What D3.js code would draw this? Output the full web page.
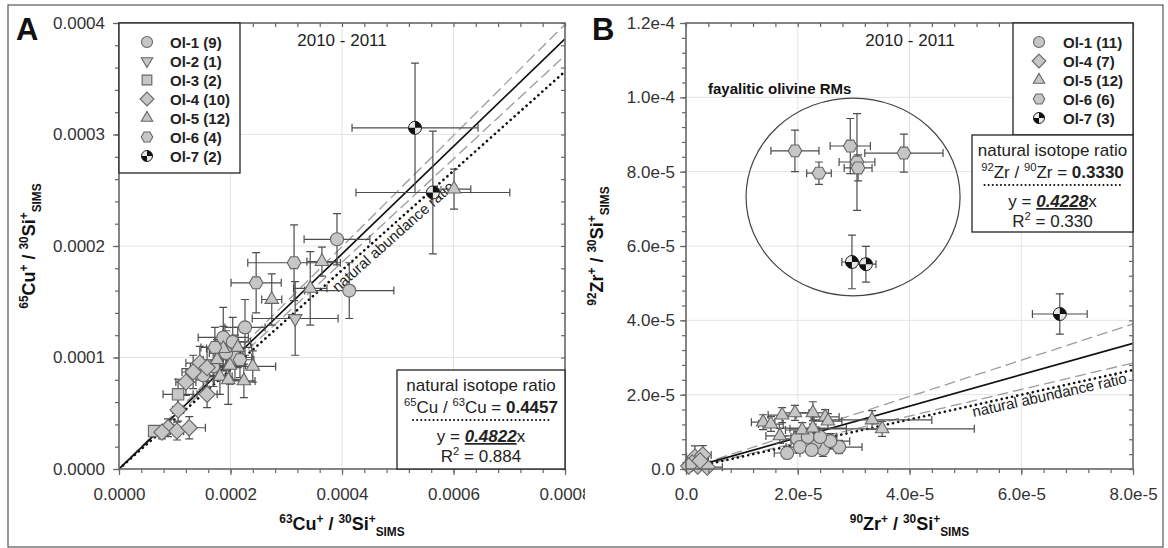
<!DOCTYPE html>
<html>
<head>
<meta charset="utf-8">
<script src="https://cdn.jsdelivr.net/npm/d3@7"></script>
<style>
  body { margin: 0; background: #fff; }
  svg { font-family: Arial, "Liberation Sans", sans-serif; }
</style>
</head>
<body>
<svg id="chart" width="1168" height="548"></svg>
<script>
// ---- panel A : 63Cu+/30Si+ (x) vs 65Cu+/30Si+ (y), rows are [x, y, xErr, yErr]
const cuOl1 = [
  [3.91e-4, 2.06e-4, 5.9e-5, 2.3e-5], [4.13e-4, 1.60e-4, 8.0e-5, 2.5e-5],
  [2.26e-4, 1.27e-4, 3.6e-5, 2.5e-5], [1.87e-4, 1.18e-4, 4.5e-5, 2.7e-5],
  [2.04e-4, 1.14e-4, 3.2e-5, 2.2e-5], [1.51e-4, 8.4e-5, 2.7e-5, 1.3e-5],
  [2.08e-4, 1.00e-4, 3.0e-5, 2.0e-5], [1.69e-4, 9.2e-5, 2.5e-5, 1.8e-5],
  [1.92e-4, 1.04e-4, 3.0e-5, 2.0e-5]
];
const cuOl2 = [[3.16e-4, 1.35e-4, 7.7e-5, 3.3e-5]];
const cuOl3 = [[1.06e-4, 6.7e-5, 2.7e-5, 1.35e-5], [6.3e-5, 3.4e-5, 9e-6, 4e-6]];
const cuOl4 = [
  [1.45e-4, 9.5e-5, 2.5e-5, 1.5e-5], [1.58e-4, 9.1e-5, 3.0e-5, 1.8e-5],
  [1.58e-4, 6.7e-5, 1.8e-5, 1.2e-5], [1.06e-4, 5.3e-5, 1.0e-5, 1.0e-5],
  [8.8e-5, 3.7e-5, 1.0e-5, 8e-6],    [1.04e-4, 3.4e-5, 1.2e-5, 8e-6],
  [1.26e-4, 3.7e-5, 2.9e-5, 1.0e-5], [1.33e-4, 8.7e-5, 2.0e-5, 1.5e-5],
  [1.20e-4, 7.8e-5, 1.8e-5, 1.2e-5], [7.7e-5, 3.3e-5, 8e-6, 6e-6]
];
const cuOl5 = [
  [6.01e-4, 2.51e-4, 3.0e-5, 1.8e-5], [3.64e-4, 1.86e-4, 2.7e-5, 1.3e-5],
  [2.74e-4, 1.52e-4, 1.8e-5, 2.3e-5], [3.43e-4, 1.62e-4, 3.0e-5, 3.3e-5],
  [1.87e-4, 1.08e-4, 3.0e-5, 2.0e-5], [2.13e-4, 1.09e-4, 2.5e-5, 1.8e-5],
  [1.76e-4, 9.8e-5, 2.5e-5, 1.8e-5],  [1.81e-4, 8.3e-5, 2.2e-5, 1.6e-5],
  [1.96e-4, 8.0e-5, 2.5e-5, 2.2e-5],  [2.24e-4, 7.9e-5, 2.0e-5, 1.5e-5],
  [2.40e-4, 9.2e-5, 4.1e-5, 1.4e-5],  [1.99e-4, 9.3e-5, 2.8e-5, 1.7e-5]
];
const cuOl6 = [
  [3.14e-4, 1.85e-4, 8.3e-5, 3.4e-5], [2.46e-4, 1.67e-4, 4.5e-5, 2.7e-5],
  [1.72e-4, 1.09e-4, 2.5e-5, 1.8e-5], [2.17e-4, 9.8e-5, 2.5e-5, 1.6e-5]
];
const cuOl7 = [[5.31e-4, 3.06e-4, 1.13e-4, 5.8e-5], [5.63e-4, 2.48e-4, 1.38e-4, 5.5e-5]];
const cuFit = 0.4822, cuNatural = 0.4457, cuBand = [0.4985, 0.4635];

// ---- panel B : 90Zr+/30Si+ (x) vs 92Zr+/30Si+ (y)
const zrOl1 = [
  [1.81e-5, 4.3e-6, 2.3e-6, 1.5e-6], [2.45e-5, 5.4e-6, 3.0e-6, 2.0e-6],
  [2.74e-5, 5.9e-6, 4.1e-6, 1.8e-6], [2.31e-5, 7.0e-6, 3.0e-6, 2.0e-6],
  [2.13e-5, 7.3e-6, 2.5e-6, 1.8e-6], [1.99e-5, 8.1e-6, 2.5e-6, 2.0e-6],
  [2.18e-5, 8.6e-6, 3.0e-6, 2.0e-6], [2.58e-5, 7.5e-6, 3.5e-6, 2.0e-6],
  [2.40e-5, 8.6e-6, 3.0e-6, 2.2e-6], [2.04e-5, 5.9e-6, 2.5e-6, 1.5e-6],
  [2.25e-5, 5.1e-6, 2.8e-6, 1.5e-6]
];
const zrOl4 = [
  [1.6e-6, 3.2e-6, 1.5e-6, 3.0e-6], [3.0e-6, 3.8e-6, 1.5e-6, 2.5e-6],
  [1.1e-6, 1.6e-6, 1.2e-6, 1.2e-6], [2.1e-6, 0.8e-6, 1.2e-6, 1.0e-6],
  [3.8e-6, 0.5e-6, 2.7e-6, 1.0e-6], [2.5e-6, 2.2e-6, 1.5e-6, 1.5e-6],
  [0.5e-6, 0.8e-6, 1.0e-6, 1.0e-6]
];
const zrOl5 = [
  [1.38e-5, 1.26e-5, 2.1e-6, 2.0e-6], [1.52e-5, 1.21e-5, 2.2e-6, 2.0e-6],
  [1.72e-5, 1.45e-5, 2.5e-6, 2.0e-6], [1.95e-5, 1.51e-5, 2.5e-6, 2.0e-6],
  [2.27e-5, 1.51e-5, 2.8e-6, 3.0e-6], [2.49e-5, 1.40e-5, 2.5e-6, 2.0e-6],
  [2.54e-5, 1.29e-5, 2.5e-6, 2.0e-6], [2.08e-5, 1.05e-5, 3.0e-6, 2.0e-6],
  [1.68e-5, 8.9e-6, 2.5e-6, 2.0e-6],  [3.33e-5, 1.32e-5, 1.07e-5, 2.5e-6],
  [3.51e-5, 1.08e-5, 1.65e-5, 2.0e-6], [2.27e-5, 1.10e-5, 6.0e-6, 2.0e-6]
];
const zrOl6 = [
  [1.95e-5, 8.56e-5, 4.3e-6, 5.6e-6], [2.38e-5, 7.96e-5, 2.2e-6, 3.0e-6],
  [2.94e-5, 8.69e-5, 3.6e-6, 7.4e-6], [3.06e-5, 8.26e-5, 3.2e-6, 1.3e-5],
  [3.08e-5, 8.10e-5, 2.5e-6, 3.5e-6], [3.90e-5, 8.50e-5, 7.0e-6, 5.1e-6]
];
const zrOl7 = [
  [2.97e-5, 5.57e-5, 1.8e-6, 7.2e-6], [3.22e-5, 5.51e-5, 1.8e-6, 4.8e-6],
  [6.69e-5, 4.17e-5, 4.9e-6, 5.4e-6]
];
const zrFit = 0.4228, zrNatural = 0.3330, zrBand = [0.4877, 0.3566];
// ellipse round the fayalitic olivine RMs: centre x, centre y, radius x, radius y (data units)
const zrRing = [2.99e-5, 7.32e-5, 1.915e-5, 2.66e-5];

// tick labels
const cuTicksX = [0, 0.0002, 0.0004, 0.0006, 0.0008];
const cuTicksY = [0, 0.0001, 0.0002, 0.0003, 0.0004];
const zrTicksX = [0, 2e-5, 4e-5, 6e-5, 8e-5];
const zrTicksY = [0, 2e-5, 4e-5, 6e-5, 8e-5, 1e-4, 1.2e-4];

const svg = d3.select('#chart');
svg.append('rect').attr('width', 1168).attr('height', 548).attr('fill', '#fff');

const FILL = '#c6c6c6', EDGE = '#666', AXIS = '#666';

function shapePath(shape, r) {
  if (shape === 'square') { const s = r * 0.88; return `M${-s},${-s}H${s}V${s}H${-s}Z`; }
  if (shape === 'diamond') { const d = r * 1.25; return `M0,${-d}L${d},0L0,${d}L${-d},0Z`; }
  if (shape === 'triangle') { const R = r * 1.2; return `M0,${-R}L${R * 0.866},${R * 0.5}L${-R * 0.866},${R * 0.5}Z`; }
  if (shape === 'triangleDown') { const R = r * 1.2; return `M0,${R}L${R * 0.866},${-R * 0.5}L${-R * 0.866},${-R * 0.5}Z`; }
  if (shape === 'hexagon') {
    const pts = d3.range(6).map(k => [r * 1.05 * Math.cos(k * Math.PI / 3), r * 1.05 * Math.sin(k * Math.PI / 3)]);
    return 'M' + pts.join('L') + 'Z';
  }
  return `M${r},0A${r},${r},0,1,1,${-r},0A${r},${r},0,1,1,${r},0Z`;
}

function marker(g, shape, cx, cy, r) {
  const m = g.append('g').attr('transform', `translate(${cx},${cy})`);
  if (shape === 'quad') {
    m.append('path').attr('d', shapePath('circle', r)).attr('fill', '#e8e8e8').attr('stroke', '#222').attr('stroke-width', 1);
    m.append('path').attr('d', `M0,0V${-r}A${r},${r},0,0,1,${r},0Z M0,0V${r}A${r},${r},0,0,1,${-r},0Z`).attr('fill', '#111');
    return;
  }
  m.append('path').attr('d', shapePath(shape, r)).attr('fill', FILL).attr('stroke', EDGE).attr('stroke-width', 1.1);
}

// text with superscripts / subscripts: parts = [[text, kind, bold], ...]
function rich(t, parts, size) {
  let off = 0;
  parts.forEach(([s, kind, bold]) => {
    const target = kind === 'sup' ? -0.4 * size : kind === 'sub' ? 0.32 * size : 0;
    const ts = t.append('tspan').attr('dy', target - off).attr('font-size', kind ? size * 0.66 : size).text(s);
    if (bold) ts.attr('font-weight', 'bold');
    off = target;
  });
  return t;
}

function drawPanel(g, o) {
  const x = d3.scaleLinear().domain([0, o.xTicks[o.xTicks.length - 1]]).range([o.l, o.r]);
  const y = d3.scaleLinear().domain([0, o.yTicks[o.yTicks.length - 1]]).range([o.b, o.t]);
  const xMax = x.domain()[1];

  // grid
  g.append('g').selectAll('line').data(o.xTicks.slice(1, -1)).join('line')
    .attr('x1', d => x(d)).attr('x2', d => x(d)).attr('y1', o.t).attr('y2', o.b)
    .attr('stroke', '#e4e4e4');
  g.append('g').selectAll('line').data(o.yTicks.slice(1, -1)).join('line')
    .attr('y1', d => y(d)).attr('y2', d => y(d)).attr('x1', o.l).attr('x2', o.r)
    .attr('stroke', '#e4e4e4');

  // reference lines, clipped to plot area
  g.append('clipPath').attr('id', o.id + 'clip').append('rect')
    .attr('x', o.l).attr('y', o.t).attr('width', o.r - o.l).attr('height', o.b - o.t);
  const lg = g.append('g').attr('clip-path', `url(#${o.id}clip)`);
  const ref = (slope) => lg.append('line')
    .attr('x1', x(0)).attr('y1', y(0)).attr('x2', x(xMax)).attr('y2', y(slope * xMax));
  o.band.forEach(s => ref(s).attr('stroke', '#9c9c9c').attr('stroke-width', 1.3).attr('stroke-dasharray', '11,5'));
  ref(o.natural).attr('stroke', '#111').attr('stroke-width', 2.6)
    .attr('stroke-dasharray', '0.1,5.2').attr('stroke-linecap', 'round');
  ref(o.fit).attr('stroke', '#111').attr('stroke-width', 1.7);

  // natural abundance ratio label along dotted line
  const ang = Math.atan2(y(o.natural * xMax) - y(0), x(xMax) - x(0)) * 180 / Math.PI;
  g.append('text')
    .attr('transform', `translate(${x(o.natLabelX)},${y(o.natural * o.natLabelX)}) rotate(${ang})`)
    .attr('dy', o.natDy).attr('text-anchor', 'middle').attr('font-size', 15).attr('fill', '#222')
    .text('natural abundance ratio');

  if (o.extra) o.extra(g, x, y);

  // error bars then markers
  const eb = g.append('g').attr('fill', 'none').attr('stroke', '#4d4d4d').attr('stroke-width', 1.2);
  const c = 4;
  o.series.forEach(s => s.pts.forEach(d => {
    const cx = x(d[0]), cy = y(d[1]), x0 = x(d[0] - d[2]), x1 = x(d[0] + d[2]);
    const y0 = y(d[1] - d[3]), y1 = y(d[1] + d[3]);
    eb.append('path').attr('d',
      `M${x0},${cy}H${x1}M${x0},${cy - c}V${cy + c}M${x1},${cy - c}V${cy + c}` +
      `M${cx},${y0}V${y1}M${cx - c},${y0}H${cx + c}M${cx - c},${y1}H${cx + c}`);
  }));
  const mk = g.append('g');
  o.series.forEach(s => s.pts.forEach(d => marker(mk, s.shape, x(d[0]), y(d[1]), 6.5)));

  // axes: frame, minor + major ticks
  const minorX = d3.range(0, xMax + o.xMinor / 2, o.xMinor);
  const minorY = d3.range(0, y.domain()[1] + o.yMinor / 2, o.yMinor);
  const style = a => a.call(s => s.select('.domain').remove())
    .call(s => s.selectAll('line').attr('stroke', AXIS).attr('stroke-width', 1.2))
    .call(s => s.selectAll('text').attr('font-size', 17).attr('fill', '#333'))
    .attr('font-family', null);
  g.append('g').attr('transform', `translate(0,${o.b})`).call(d3.axisBottom(x).tickValues(minorX).tickSize(4).tickFormat('')).call(style);
  g.append('g').attr('transform', `translate(0,${o.b})`).call(d3.axisBottom(x).tickValues(o.xTicks).tickSize(6).tickPadding(13).tickFormat(o.fmt)).call(style);
  g.append('g').attr('transform', `translate(0,${o.t})`).call(d3.axisTop(x).tickValues(minorX).tickSize(-4).tickFormat('')).call(style);
  g.append('g').attr('transform', `translate(${o.l},0)`).call(d3.axisLeft(y).tickValues(minorY).tickSize(4).tickFormat('')).call(style);
  g.append('g').attr('transform', `translate(${o.l},0)`).call(d3.axisLeft(y).tickValues(o.yTicks).tickSize(6).tickPadding(o.yPad).tickFormat(o.fmt)).call(style);
  g.append('g').attr('transform', `translate(${o.r},0)`).call(d3.axisRight(y).tickValues(minorY).tickSize(-4).tickFormat('')).call(style);
  g.append('rect').attr('x', o.l).attr('y', o.t).attr('width', o.r - o.l).attr('height', o.b - o.t)
    .attr('fill', 'none').attr('stroke', AXIS).attr('stroke-width', 1.6);

  // legend
  const lw = o.legend;
  g.append('rect').attr('x', lw.x).attr('y', o.t).attr('width', lw.w).attr('height', lw.h)
    .attr('fill', '#fff').attr('stroke', '#222').attr('stroke-width', 1.3);
  o.series.forEach((s, i) => {
    const ry = o.t + 19 + 19 * i;
    marker(g, s.shape, lw.x + lw.sym, ry, 5.5);
    g.append('text').attr('x', lw.x + lw.txt).attr('y', ry + 5.5).attr('font-size', 15)
      .attr('font-weight', 'bold').attr('fill', '#222').text(s.label);
  });

  // isotope ratio box
  const bx = o.box;
  g.append('rect').attr('x', bx.x).attr('y', bx.y).attr('width', o.r - bx.x).attr('height', bx.h)
    .attr('fill', '#fff').attr('stroke', '#222').attr('stroke-width', 1.3);
  const mid = (bx.x + o.r) / 2;
  const bt = (dy) => g.append('text').attr('x', mid).attr('y', bx.y + dy).attr('text-anchor', 'middle')
    .attr('font-size', 17).attr('fill', '#222');
  bt(21).text('natural isotope ratio');
  rich(bt(43), bx.ratio, 17);
  g.append('line').attr('x1', mid - 68).attr('x2', mid + 68).attr('y1', bx.y + 50).attr('y2', bx.y + 50)
    .attr('stroke', '#111').attr('stroke-width', 2).attr('stroke-dasharray', '0.1,4').attr('stroke-linecap', 'round');
  const fy = bt(72);
  fy.append('tspan').text('y = ');
  fy.append('tspan').attr('font-weight', 'bold').attr('font-style', 'italic')
    .style('text-decoration', 'underline').text(bx.slope);
  fy.append('tspan').text('x');
  rich(bt(92), [['R', ''], ['2', 'sup'], [' = ' + bx.r2, '']], 17);

  // year label, panel letter, axis titles
  g.append('text').attr('x', o.yearX).attr('y', 46).attr('text-anchor', 'middle').attr('font-size', 17)
    .attr('fill', '#222').text('2010 - 2011');
  g.append('text').attr('x', o.letterX).attr('y', 40).attr('font-size', 31).attr('font-weight', 'bold')
    .attr('fill', '#111').text(o.letter);
  rich(g.append('text').attr('x', (o.l + o.r) / 2).attr('y', 530).attr('text-anchor', 'middle')
    .attr('font-weight', 'bold').attr('fill', '#111'), o.xTitle, 18);
  rich(g.append('text').attr('transform', `translate(${o.yTitleX},${(o.t + o.b) / 2}) rotate(-90)`)
    .attr('text-anchor', 'middle').attr('font-weight', 'bold').attr('fill', '#111'), o.yTitle, 18);
}

// panel A (clipped where panel B starts)
svg.append('clipPath').attr('id', 'cutA').append('rect').attr('width', 585).attr('height', 548);
const gA = svg.append('g').attr('clip-path', 'url(#cutA)');
drawPanel(gA, {
  id: 'A', l: 119, r: 565, t: 23, b: 469,
  xTicks: cuTicksX, yTicks: cuTicksY, xMinor: 0.00004, yMinor: 0.00002,
  fmt: d3.format('.4f'), yPad: 8,
  fit: cuFit, natural: cuNatural, band: cuBand, natLabelX: 0.000481, natDy: 14,
  series: [
    { label: 'Ol-1 (9)', shape: 'circle', pts: cuOl1 },
    { label: 'Ol-2 (1)', shape: 'triangleDown', pts: cuOl2 },
    { label: 'Ol-3 (2)', shape: 'square', pts: cuOl3 },
    { label: 'Ol-4 (10)', shape: 'diamond', pts: cuOl4 },
    { label: 'Ol-5 (12)', shape: 'triangle', pts: cuOl5 },
    { label: 'Ol-6 (4)', shape: 'hexagon', pts: cuOl6 },
    { label: 'Ol-7 (2)', shape: 'quad', pts: cuOl7 }
  ],
  legend: { x: 119, w: 121, h: 150, sym: 28, txt: 51 },
  box: { x: 397, y: 370, h: 99, slope: cuFit.toFixed(4), r2: '0.884',
         ratio: [['65', 'sup'], ['Cu / ', ''], ['63', 'sup'], ['Cu = ', ''], [cuNatural.toFixed(4), '', true]] },
  yearX: 342, letter: 'A', letterX: 16, yTitleX: 35,
  xTitle: [['63', 'sup'], ['Cu', ''], ['+', 'sup'], [' / ', ''], ['30', 'sup'], ['Si', ''], ['+', 'sup'], ['SIMS', 'sub']],
  yTitle: [['65', 'sup'], ['Cu', ''], ['+', 'sup'], [' / ', ''], ['30', 'sup'], ['Si', ''], ['+', 'sup'], ['SIMS', 'sub']]
});

// panel B
const gB = svg.append('g');
const sciFmt = d => d === 0 ? '0.0' : d3.format('.1e')(d);
drawPanel(gB, {
  id: 'B', l: 686, r: 1133, t: 23, b: 469,
  xTicks: zrTicksX, yTicks: zrTicksY, xMinor: 4e-6, yMinor: 4e-6,
  fmt: sciFmt, yPad: 5,
  fit: zrFit, natural: zrNatural, band: zrBand, natLabelX: 6.48e-5, natDy: 11.5,
  series: [
    { label: 'Ol-1 (11)', shape: 'circle', pts: zrOl1 },
    { label: 'Ol-4 (7)', shape: 'diamond', pts: zrOl4 },
    { label: 'Ol-5 (12)', shape: 'triangle', pts: zrOl5 },
    { label: 'Ol-6 (6)', shape: 'hexagon', pts: zrOl6 },
    { label: 'Ol-7 (3)', shape: 'quad', pts: zrOl7 }
  ],
  legend: { x: 1013, w: 120, h: 112, sym: 26, txt: 50 },
  box: { x: 972, y: 135, h: 97, slope: zrFit.toFixed(4), r2: '0.330',
         ratio: [['92', 'sup'], ['Zr / ', ''], ['90', 'sup'], ['Zr = ', ''], [zrNatural.toFixed(4), '', true]] },
  yearX: 910, letter: 'B', letterX: 592, yTitleX: 603,
  xTitle: [['90', 'sup'], ['Zr', ''], ['+', 'sup'], [' / ', ''], ['30', 'sup'], ['Si', ''], ['+', 'sup'], ['SIMS', 'sub']],
  yTitle: [['92', 'sup'], ['Zr', ''], ['+', 'sup'], [' / ', ''], ['30', 'sup'], ['Si', ''], ['+', 'sup'], ['SIMS', 'sub']],
  extra: (g, x, y) => {
    g.append('ellipse').attr('cx', x(zrRing[0])).attr('cy', y(zrRing[1]))
      .attr('rx', x(zrRing[2]) - x(0)).attr('ry', y(0) - y(zrRing[3]))
      .attr('fill', 'none').attr('stroke', '#444').attr('stroke-width', 1.2);
    g.append('text').attr('x', 708).attr('y', 94).attr('font-size', 15).attr('font-weight', 'bold')
      .attr('fill', '#111').text('fayalitic olivine RMs');
  }
});

// outer frame
svg.append('rect').attr('x', 8).attr('y', 5).attr('width', 1155).attr('height', 542)
  .attr('fill', 'none').attr('stroke', '#555').attr('stroke-width', 1.2);
</script>
</body>
</html>
